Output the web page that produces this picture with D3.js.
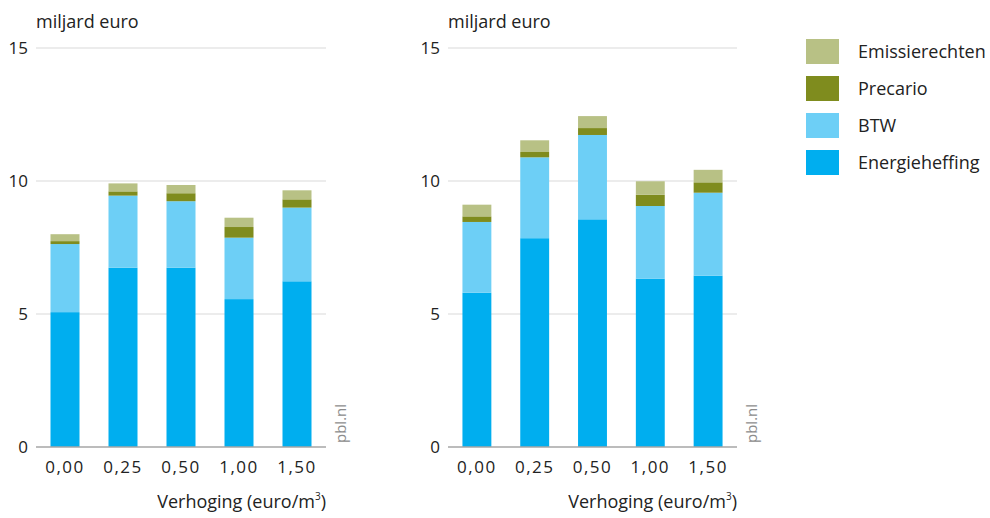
<!DOCTYPE html>
<html><head><meta charset="utf-8">
<script src="https://cdn.jsdelivr.net/npm/d3@7"></script>
<style>
body{margin:0;background:#fff;}
text{font-family:"Open Sans",sans-serif;fill:#222;}
</style></head><body>
<svg id="c" width="990" height="518"></svg>
<script>
const categories = ["0,00","0,25","0,50","1,00","1,50"];
const seriesNames = ["Energieheffing","BTW","Precario","Emissierechten"];
const seriesColors = ["#00aeef","#6dcff6","#7f8c1e","#b8c185"];
// left panel (segment values, billion euro)
const leftEnergie = [5.07, 6.74, 6.74, 5.56, 6.23];
const leftBTW     = [2.56, 2.71, 2.50, 2.31, 2.77];
const leftPrecario= [0.11, 0.16, 0.30, 0.40, 0.31];
const leftEmissie = [0.26, 0.30, 0.31, 0.35, 0.34];
// right panel
const rightEnergie = [5.80, 7.85, 8.56, 6.33, 6.44];
const rightBTW     = [2.66, 3.04, 3.17, 2.73, 3.12];
const rightPrecario= [0.21, 0.20, 0.26, 0.42, 0.39];
const rightEmissie = [0.44, 0.44, 0.45, 0.51, 0.47];
const yTicks = [0,5,10,15];
const yLabel = "miljard euro";
const xLabel = "Verhoging (euro/m";

const svg = d3.select("#c");
const y = d3.scaleLinear().domain([0,15]).range([447,48]);

function panel(x0, x1, series){
  const g = svg.append("g");
  const x = d3.scaleBand().domain(categories).range([x0, x1]).paddingInner(0.5).paddingOuter(0.25);
  g.selectAll("line.grid").data(yTicks.filter(d=>d>0)).join("line")
    .attr("x1",x0).attr("x2",x1).attr("y1",d=>y(d)).attr("y2",d=>y(d))
    .attr("stroke","#d9d9d9").attr("stroke-width",1.2);
  g.selectAll("text.yt").data(yTicks).join("text")
    .attr("x",x0-8).attr("y",d=>y(d)+6).attr("text-anchor","end")
    .attr("font-size",17).text(d=>d);
  const rows = categories.map((c,i)=>{const r={cat:c}; seriesNames.forEach((s,j)=>r[s]=series[j][i]); return r;});
  const stacked = d3.stack().keys(seriesNames)(rows);
  stacked.forEach((layer,j)=>{
    g.selectAll(null).data(layer).join("rect")
      .attr("x",d=>x(d.data.cat)).attr("width",x.bandwidth())
      .attr("y",d=>y(d[1])).attr("height",d=>y(d[0])-y(d[1]))
      .attr("fill",seriesColors[j]);
  });
  g.append("line").attr("x1",x0).attr("x2",x1).attr("y1",y(0)).attr("y2",y(0))
    .attr("stroke","#a6a6a6").attr("stroke-width",1.5);
  g.selectAll("text.xt").data(categories).join("text")
    .attr("x",d=>x(d)+x.bandwidth()/2).attr("y",473).attr("text-anchor","middle")
    .attr("font-size",17).attr("letter-spacing",1.5).text(d=>d);
  g.append("text").attr("x",x0).attr("y",28).attr("font-size",18).text(yLabel);
  const t = g.append("text").attr("x",x1).attr("y",508).attr("text-anchor","end").attr("font-size",18);
  t.append("tspan").text(xLabel);
  t.append("tspan").attr("font-size",10).attr("dy",-8).text("3");
  t.append("tspan").attr("dy",8).text(")");
  g.append("text").attr("transform",`translate(${x1+20},443) rotate(-90)`)
    .attr("font-size",15).style("fill","#8c8c8c").text("pbl.nl");
}
panel(36, 326, [leftEnergie,leftBTW,leftPrecario,leftEmissie]);
panel(448, 737, [rightEnergie,rightBTW,rightPrecario,rightEmissie]);

const legendOrder = [3,2,1,0];
const lg = svg.append("g");
legendOrder.forEach((j,i)=>{
  lg.append("rect").attr("x",806).attr("y",39+i*37).attr("width",33).attr("height",25).attr("fill",seriesColors[j]);
  lg.append("text").attr("x",858).attr("y",58+i*37).attr("font-size",18).text(seriesNames[j]);
});
</script></body></html>
